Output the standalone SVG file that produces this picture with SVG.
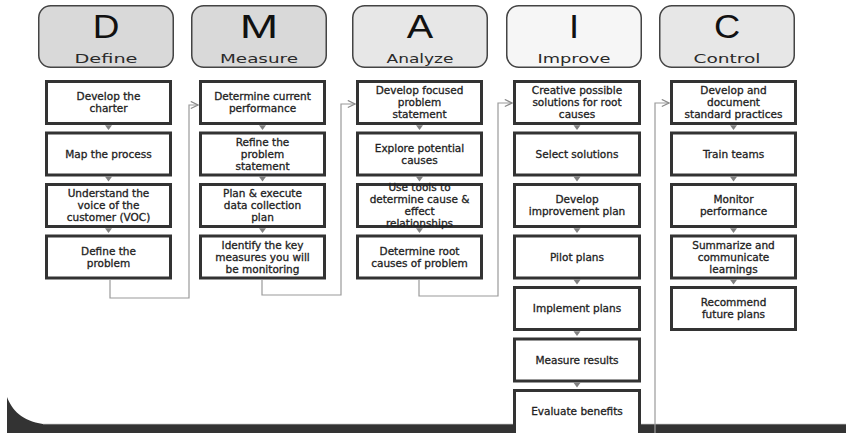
<svg xmlns="http://www.w3.org/2000/svg" width="846" height="433" viewBox="0 0 846 433">
<defs>
<style>
.hdr{stroke:#444;stroke-width:1.5}
.big{font-family:"Liberation Sans",Arial,sans-serif;font-size:33px;fill:#111;text-anchor:middle}
.lbl{font-family:"DejaVu Sans",sans-serif;font-size:13px;fill:#2a2a2a;text-anchor:middle}
.box{fill:#fff;stroke:#333;stroke-width:3}
.t{font-family:"DejaVu Sans",sans-serif;font-size:10.5px;fill:#222;stroke:#222;stroke-width:0.3;text-anchor:middle}
.conn{fill:none;stroke:#9a9a9a;stroke-width:1.2}
.tri{fill:#808080}
</style>
<marker id="open" viewBox="0 0 10 10" refX="9" refY="5" markerWidth="9" markerHeight="9" markerUnits="userSpaceOnUse" orient="auto">
<path d="M1,1 L9,5 L1,9" fill="none" stroke="#8a8a8a" stroke-width="1.3"/>
</marker>
</defs>
<rect width="846" height="433" fill="#fff"/>
<path d="M7,397 C12,410 22,421 43,424 H846 V433 H7 Z" fill="#333"/>
<line x1="43" y1="424.3" x2="846" y2="424.3" stroke="#8c8c8c" stroke-width="0.8"/>

<g id="header-D">
<rect class="hdr" x="38.75" y="5.75" width="134.5" height="61.5" rx="12" fill="#d9d9d9"/>
<text class="big" transform="translate(106,38) scale(1.12,1)">D</text>
<text class="lbl" x="106" y="63" textLength="63" lengthAdjust="spacingAndGlyphs">Define</text>
</g>
<g id="header-M">
<rect class="hdr" x="191.75" y="5.75" width="134.5" height="61.5" rx="12" fill="#d9d9d9"/>
<text class="big" transform="translate(259,38) scale(1.4,1)">M</text>
<text class="lbl" x="259" y="63" textLength="78" lengthAdjust="spacingAndGlyphs">Measure</text>
</g>
<g id="header-A">
<rect class="hdr" x="352.75" y="5.75" width="134.5" height="61.5" rx="12" fill="#e7e7e7"/>
<text class="big" transform="translate(420,38) scale(1.2,1)">A</text>
<text class="lbl" x="420" y="63" textLength="67" lengthAdjust="spacingAndGlyphs">Analyze</text>
</g>
<g id="header-I">
<rect class="hdr" x="506.75" y="5.75" width="134.5" height="61.5" rx="12" fill="#f6f6f6"/>
<text class="big" transform="translate(574,38) scale(1.1,1)">I</text>
<text class="lbl" x="574" y="63" textLength="73" lengthAdjust="spacingAndGlyphs">Improve</text>
</g>
<g id="header-C">
<rect class="hdr" x="659.75" y="5.75" width="134.5" height="61.5" rx="12" fill="#e7e7e7"/>
<text class="big" transform="translate(727,38) scale(1.1,1)">C</text>
<text class="lbl" x="727" y="63" textLength="67" lengthAdjust="spacingAndGlyphs">Control</text>
</g>

<g id="connectors">
<path class="conn" d="M110,280 V298 H189 V105 H198" marker-end="url(#open)"/>
<path class="conn" d="M262,280 V295 H341 V104 H355" marker-end="url(#open)"/>
<path class="conn" d="M419,280 V296 H498 V103 H512" marker-end="url(#open)"/>
<path class="conn" d="M655,433 V103 H669" marker-end="url(#open)"/>
<g class="tri">
<polygon points="105,125.3 112,125.3 108.5,130"/>
<polygon points="105,176.8 112,176.8 108.5,181.5"/>
<polygon points="105,228.3 112,228.3 108.5,233"/>
<polygon points="259,125.3 266,125.3 262.5,130"/>
<polygon points="259,176.8 266,176.8 262.5,181.5"/>
<polygon points="259,228.3 266,228.3 262.5,233"/>
<polygon points="416,125.3 423,125.3 419.5,130"/>
<polygon points="416,176.8 423,176.8 419.5,181.5"/>
<polygon points="416,228.3 423,228.3 419.5,233"/>
<polygon points="573.5,125.3 580.5,125.3 577,130"/>
<polygon points="573.5,176.8 580.5,176.8 577,181.5"/>
<polygon points="573.5,228.3 580.5,228.3 577,233"/>
<polygon points="573.5,279.8 580.5,279.8 577,284.5"/>
<polygon points="573.5,331.3 580.5,331.3 577,336"/>
<polygon points="573.5,382.8 580.5,382.8 577,387.5"/>
<polygon points="730,125.3 737,125.3 733.5,130"/>
<polygon points="730,176.8 737,176.8 733.5,181.5"/>
<polygon points="730,228.3 737,228.3 733.5,233"/>
<polygon points="730,279.8 737,279.8 733.5,284.5"/>
</g>
</g>

<g id="d1"><rect class="box" x="46.5" y="81.5" width="124" height="42"/><text class="t" y="100.2"><tspan x="108.5">Develop the</tspan><tspan x="108.5" dy="12">charter</tspan></text></g>
<g id="d2"><rect class="box" x="46.5" y="133" width="124" height="42"/><text class="t" x="108.5" y="157.7">Map the process</text></g>
<g id="d3"><rect class="box" x="46.5" y="184.5" width="124" height="42"/><text class="t" y="197.2"><tspan x="108.5">Understand the</tspan><tspan x="108.5" dy="12">voice of the</tspan><tspan x="108.5" dy="12">customer (VOC)</tspan></text></g>
<g id="d4"><rect class="box" x="46.5" y="236" width="124" height="42"/><text class="t" y="254.7"><tspan x="108.5">Define the</tspan><tspan x="108.5" dy="12">problem</tspan></text></g>

<g id="m1"><rect class="box" x="200.5" y="81.5" width="124" height="42"/><text class="t" y="100.2"><tspan x="262.5">Determine current</tspan><tspan x="262.5" dy="12">performance</tspan></text></g>
<g id="m2"><rect class="box" x="200.5" y="133" width="124" height="42"/><text class="t" y="145.7"><tspan x="262.5">Refine the</tspan><tspan x="262.5" dy="12">problem</tspan><tspan x="262.5" dy="12">statement</tspan></text></g>
<g id="m3"><rect class="box" x="200.5" y="184.5" width="124" height="42"/><text class="t" y="197.2"><tspan x="262.5">Plan &amp; execute</tspan><tspan x="262.5" dy="12">data collection</tspan><tspan x="262.5" dy="12">plan</tspan></text></g>
<g id="m4"><rect class="box" x="200.5" y="236" width="124" height="42"/><text class="t" y="248.7"><tspan x="262.5">Identify the key</tspan><tspan x="262.5" dy="12">measures you will</tspan><tspan x="262.5" dy="12">be monitoring</tspan></text></g>

<g id="a1"><rect class="box" x="357.5" y="81.5" width="124" height="42"/><text class="t" y="94.2"><tspan x="419.5">Develop focused</tspan><tspan x="419.5" dy="12">problem</tspan><tspan x="419.5" dy="12">statement</tspan></text></g>
<g id="a2"><rect class="box" x="357.5" y="133" width="124" height="42"/><text class="t" y="151.7"><tspan x="419.5">Explore potential</tspan><tspan x="419.5" dy="12">causes</tspan></text></g>
<g id="a3"><rect class="box" x="357.5" y="184.5" width="124" height="42"/><text class="t" y="191.2"><tspan x="419.5">Use tools to</tspan><tspan x="419.5" dy="12">determine cause &amp;</tspan><tspan x="419.5" dy="12">effect</tspan><tspan x="419.5" dy="12">relationships</tspan></text></g>
<g id="a4"><rect class="box" x="357.5" y="236" width="124" height="42"/><text class="t" y="254.7"><tspan x="419.5">Determine root</tspan><tspan x="419.5" dy="12">causes of problem</tspan></text></g>

<g id="i1"><rect class="box" x="514.5" y="81.5" width="125" height="42"/><text class="t" y="94.2"><tspan x="577">Creative possible</tspan><tspan x="577" dy="12">solutions for root</tspan><tspan x="577" dy="12">causes</tspan></text></g>
<g id="i2"><rect class="box" x="514.5" y="133" width="125" height="42"/><text class="t" x="577" y="157.7">Select solutions</text></g>
<g id="i3"><rect class="box" x="514.5" y="184.5" width="125" height="42"/><text class="t" y="203.2"><tspan x="577">Develop</tspan><tspan x="577" dy="12">improvement plan</tspan></text></g>
<g id="i4"><rect class="box" x="514.5" y="236" width="125" height="42"/><text class="t" x="577" y="260.7">Pilot plans</text></g>
<g id="i5"><rect class="box" x="514.5" y="287.5" width="125" height="42"/><text class="t" x="577" y="312.2">Implement plans</text></g>
<g id="i6"><rect class="box" x="514.5" y="339" width="125" height="42"/><text class="t" x="577" y="363.7">Measure results</text></g>
<g id="i7"><rect class="box" x="514.5" y="390.5" width="125" height="50"/><text class="t" x="577" y="415.2">Evaluate benefits</text></g>

<g id="c1"><rect class="box" x="671.5" y="81.5" width="124" height="42"/><text class="t" y="94.2"><tspan x="733.5">Develop and</tspan><tspan x="733.5" dy="12">document</tspan><tspan x="733.5" dy="12">standard practices</tspan></text></g>
<g id="c2"><rect class="box" x="671.5" y="133" width="124" height="42"/><text class="t" x="733.5" y="157.7">Train teams</text></g>
<g id="c3"><rect class="box" x="671.5" y="184.5" width="124" height="42"/><text class="t" y="203.2"><tspan x="733.5">Monitor</tspan><tspan x="733.5" dy="12">performance</tspan></text></g>
<g id="c4"><rect class="box" x="671.5" y="236" width="124" height="42"/><text class="t" y="248.7"><tspan x="733.5">Summarize and</tspan><tspan x="733.5" dy="12">communicate</tspan><tspan x="733.5" dy="12">learnings</tspan></text></g>
<g id="c5"><rect class="box" x="671.5" y="287.5" width="124" height="42"/><text class="t" y="306.2"><tspan x="733.5">Recommend</tspan><tspan x="733.5" dy="12">future plans</tspan></text></g>
</svg>
